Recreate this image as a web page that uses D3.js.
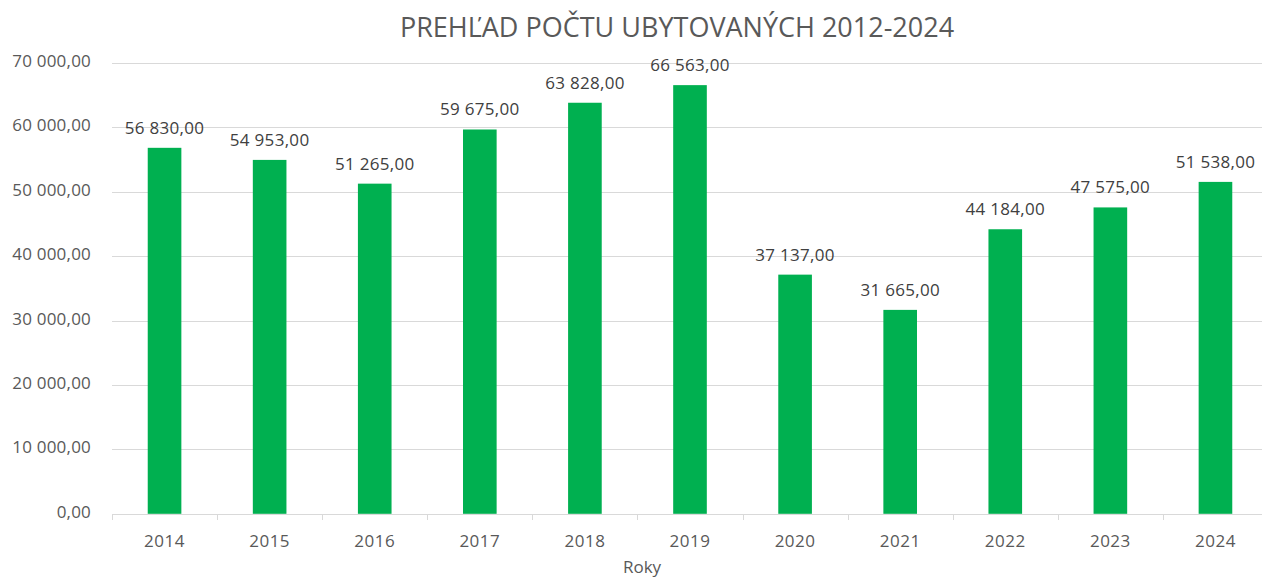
<!DOCTYPE html>
<html>
<head>
<meta charset="utf-8">
<script src="https://cdn.jsdelivr.net/npm/d3@7"></script>
<style>
  body { margin: 0; background: #fff; }
  text { font-family: "Open Sans", "Noto Sans", sans-serif; }
</style>
</head>
<body>
<div id="chart"></div>
<script>
const years = ["2014", "2015", "2016", "2017", "2018", "2019", "2020", "2021", "2022", "2023", "2024"];
const guests = [56830, 54953, 51265, 59675, 63828, 66563, 37137, 31665, 44184, 47575, 51538];
const yTicks = [0, 10000, 20000, 30000, 40000, 50000, 60000, 70000];

const width = 1262;
const height = 577;
const margin = {top: 63, left: 112, bottom: 63};
const plotRight = 1268; // plot continues a bit past the picture edge

const sk = d3.formatLocale({decimal: ",", thousands: "\u00a0", grouping: [3]});
const fmt = sk.format(",.2f");

const svg = d3.select("#chart")
  .append("svg")
  .attr("width", width)
  .attr("height", height);

const x = d3.scaleBand()
  .domain(years)
  .range([margin.left, plotRight])
  .paddingInner(0.68)
  .paddingOuter(0.34);

const y = d3.scaleLinear()
  .domain([0, 70000])
  .range([height - margin.bottom - 0.2, margin.top]);

// gridlines
svg.append("g")
  .selectAll("line")
  .data(yTicks)
  .enter()
  .append("line")
  .attr("x1", margin.left)
  .attr("x2", plotRight)
  .attr("y1", d => Math.round(y(d)) + 0.5)
  .attr("y2", d => Math.round(y(d)) + 0.5)
  .attr("stroke", "#d9d9d9")
  .attr("stroke-width", 1);

// y labels
svg.append("g")
  .selectAll("text")
  .data(yTicks)
  .enter()
  .append("text")
  .attr("x", 91)
  .attr("y", d => y(d) - 2)
  .attr("dy", "0.35em")
  .attr("text-anchor", "end")
  .attr("fill", "#595959")
  .style("font-size", "17px")
  .style("letter-spacing", "0.2px")
  .text(d => fmt(d));

// x axis
const xAxis = d3.axisBottom(x)
  .tickSize(0)
  .tickPadding(20);

const gx = svg.append("g")
  .attr("transform", "translate(0," + (Math.round(y(0)) + 0.5) + ")")
  .call(xAxis);
gx.select(".domain").remove();
gx.selectAll("text")
  .attr("fill", "#595959")
  .style("font-size", "17px")
  .style("letter-spacing", "0.5px")
  .style("font-family", "'Open Sans', 'Noto Sans', sans-serif");

// category separator ticks
const step = x.step();
svg.append("g")
  .selectAll("line")
  .data(d3.range(years.length + 1))
  .enter()
  .append("line")
  .attr("x1", i => Math.round(margin.left + i * step) + 0.5)
  .attr("x2", i => Math.round(margin.left + i * step) + 0.5)
  .attr("y1", Math.round(y(0)))
  .attr("y2", Math.round(y(0)) + 6)
  .attr("stroke", "#d9d9d9");

// bars
svg.append("g")
  .selectAll("rect")
  .data(guests)
  .enter()
  .append("rect")
  .attr("x", (d, i) => x(years[i]))
  .attr("y", d => y(d))
  .attr("width", x.bandwidth())
  .attr("height", d => y(0) - y(d))
  .attr("fill", "#00b050");

// value labels
svg.append("g")
  .selectAll("text")
  .data(guests)
  .enter()
  .append("text")
  .attr("x", (d, i) => x(years[i]) + x.bandwidth() / 2)
  .attr("y", d => y(d) - 14)
  .attr("text-anchor", "middle")
  .attr("fill", "#404040")
  .style("font-size", "17px")
  .style("letter-spacing", "0.3px")
  .text(d => fmt(d));

// title
svg.append("text")
  .attr("x", 677)
  .attr("y", 37)
  .attr("text-anchor", "middle")
  .attr("fill", "#595959")
  .style("font-size", "27px")
  .text("PREHĽAD POČTU UBYTOVANÝCH 2012-2024");

// axis title
svg.append("text")
  .attr("x", 642)
  .attr("y", 573)
  .attr("text-anchor", "middle")
  .attr("fill", "#595959")
  .style("font-size", "17px")
  .text("Roky");
</script>
</body>
</html>
